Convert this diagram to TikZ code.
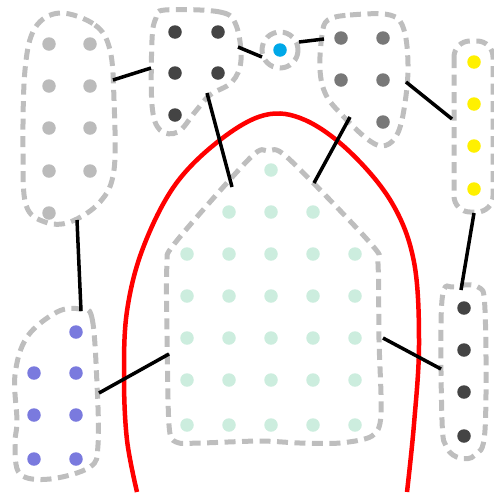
\documentclass[tikz,border=0pt]{standalone}
\usepackage{xcolor}
\usepackage{tikz}
\usetikzlibrary{positioning}
\definecolor{hullgray}{RGB}{190,190,190}
\definecolor{dotlight}{RGB}{187,187,187}
\definecolor{dotdark}{RGB}{68,68,68}
\definecolor{dotmid}{RGB}{120,120,120}
\definecolor{dotyellow}{RGB}{255,240,0}
\definecolor{dotpurple}{RGB}{122,122,222}
\definecolor{dotmint}{RGB}{204,237,222}
\definecolor{dotcyan}{RGB}{0,168,232}

\begin{document}
\begin{tikzpicture}[
  x=1pt, y=-1pt,
  dot/.style={circle, inner sep=0pt, minimum size=13.5pt},
  hull/.style={draw=hullgray, line width=5pt, dash pattern=on 11pt off 6.5pt},
  link/.style={line width=3.5pt},
  cut/.style={draw=red, line width=4.5pt}
]
  \useasboundingbox (0,0) rectangle (494,493);

  % separating curve
  \draw[cut] plot[smooth, tension=0.6] coordinates {(137,492) (127,440) (124,377)
    (127,311) (143,248) (175,185) (220,140) (265,115) (305,120) (350,152)
    (392,203) (414,262) (419,344) (414,424) (407,492)};

  % clusters
  \draw[hull] plot[smooth cycle, tension=0.6] coordinates {(60,13) (95,25) (110,50)
    (114,100) (114,170) (100,202) (70,222) (45,222) (26,205) (23,150) (25,70) (35,28)};
  \draw[hull] plot[smooth cycle, tension=0.6] coordinates {(165,10) (220,12) (236,25)
    (241,60) (232,82) (210,95) (195,112) (178,132) (160,130) (152,105) (152,40) (156,18)};
  \draw[hull] (280,50) circle[radius=18];
  \draw[hull] plot[smooth cycle, tension=0.6] coordinates {(328,20) (350,15) (390,15)
    (404,30) (408,70) (403,115) (395,138) (382,146) (366,138) (342,115) (326,95)
    (320,70) (322,35)};
  \draw[hull, rounded corners=16] (454,41) rectangle (493,212);
  \draw[hull] plot[smooth cycle, tension=0.6] coordinates {(455,287) (478,287)
    (485,310) (485,430) (475,455) (460,458) (447,448) (442,420) (442,300)};
  \draw[hull] plot[smooth cycle, tension=0.5] coordinates {(268,151) (288,158)
    (372,245) (378,265) (379,340) (381,415) (372,436) (340,443) (300,443)
    (260,441) (200,443) (176,442) (169,425) (167,330) (167,265) (175,243) (250,158)};
  \draw[hull] plot[smooth cycle, tension=0.6] coordinates {(80,309) (92,318) (97,384)
    (98,445) (90,467) (50,479) (20,474) (15,444) (17,421) (15,375) (27,337) (57,312)};

  % members
  \foreach \x/\y [count=\i] in {49/44,90/44,49/86,90/86,49/128,90/128,49/171,90/171,49/213}
    \node[dot, fill=dotlight] (a\i) at (\x,\y) {};
  \foreach \x/\y [count=\i] in {175/32,218/32,175/73,218/73,175/115}
    \node[dot, fill=dotdark] (b\i) at (\x,\y) {};
  \node[dot, fill=dotcyan] (c1) at (280,50) {};
  \foreach \x/\y [count=\i] in {341/38,383/38,341/80,383/80,383/122}
    \node[dot, fill=dotmid] (d\i) at (\x,\y) {};
  \foreach \y [count=\i] in {62,104,146,189}
    \node[dot, fill=dotyellow] (e\i) at (474,\y) {};
  \foreach \y [count=\i] in {308,350,392,436}
    \node[dot, fill=dotdark] (f\i) at (464,\y) {};
  \foreach \x/\y [count=\i] in {76/332,34/373,76/373,34/415,76/415,34/459,76/459}
    \node[dot, fill=dotpurple] (g\i) at (\x,\y) {};
  \node[dot, fill=dotmint] (h0) at (271,170) {};
  \foreach \x [count=\i] in {229,271,313}
    \node[dot, fill=dotmint] (ht\i) at (\x,212) {};
  \foreach \y [count=\j] in {254,296,338,380,425}
    \foreach \x [count=\i] in {187,229,271,313,355}
      \node[dot, fill=dotmint] (h\j\i) at (\x,\y) {};

  % link ends on the hulls
  \coordinate (ab1) at (113,80);   \coordinate (ab2) at (151,68);
  \coordinate (bc1) at (238,47);   \coordinate (bc2) at (262,57);
  \coordinate (cd1) at (299,42);   \coordinate (cd2) at (324,39);
  \coordinate (bh1) at (207,93);   \coordinate (bh2) at (232,187);
  \coordinate (dh1) at (350,117);  \coordinate (dh2) at (314,183);
  \coordinate (de1) at (406,82);   \coordinate (de2) at (452,119);
  \coordinate (ag1) at (77,220);   \coordinate (ag2) at (81,311);
  \coordinate (ef1) at (474,213);  \coordinate (ef2) at (461,290);
  \coordinate (gh1) at (99,393);   \coordinate (gh2) at (169,354);
  \coordinate (hf1) at (383,338);  \coordinate (hf2) at (441,369);

  \draw[link] (ab1) -- (ab2);
  \draw[link] (bc1) -- (bc2);
  \draw[link] (cd1) -- (cd2);
  \draw[link] (bh1) -- (bh2);
  \draw[link] (dh1) -- (dh2);
  \draw[link] (de1) -- (de2);
  \draw[link] (ag1) -- (ag2);
  \draw[link] (ef1) -- (ef2);
  \draw[link] (gh1) -- (gh2);
  \draw[link] (hf1) -- (hf2);
\end{tikzpicture}
\end{document}
